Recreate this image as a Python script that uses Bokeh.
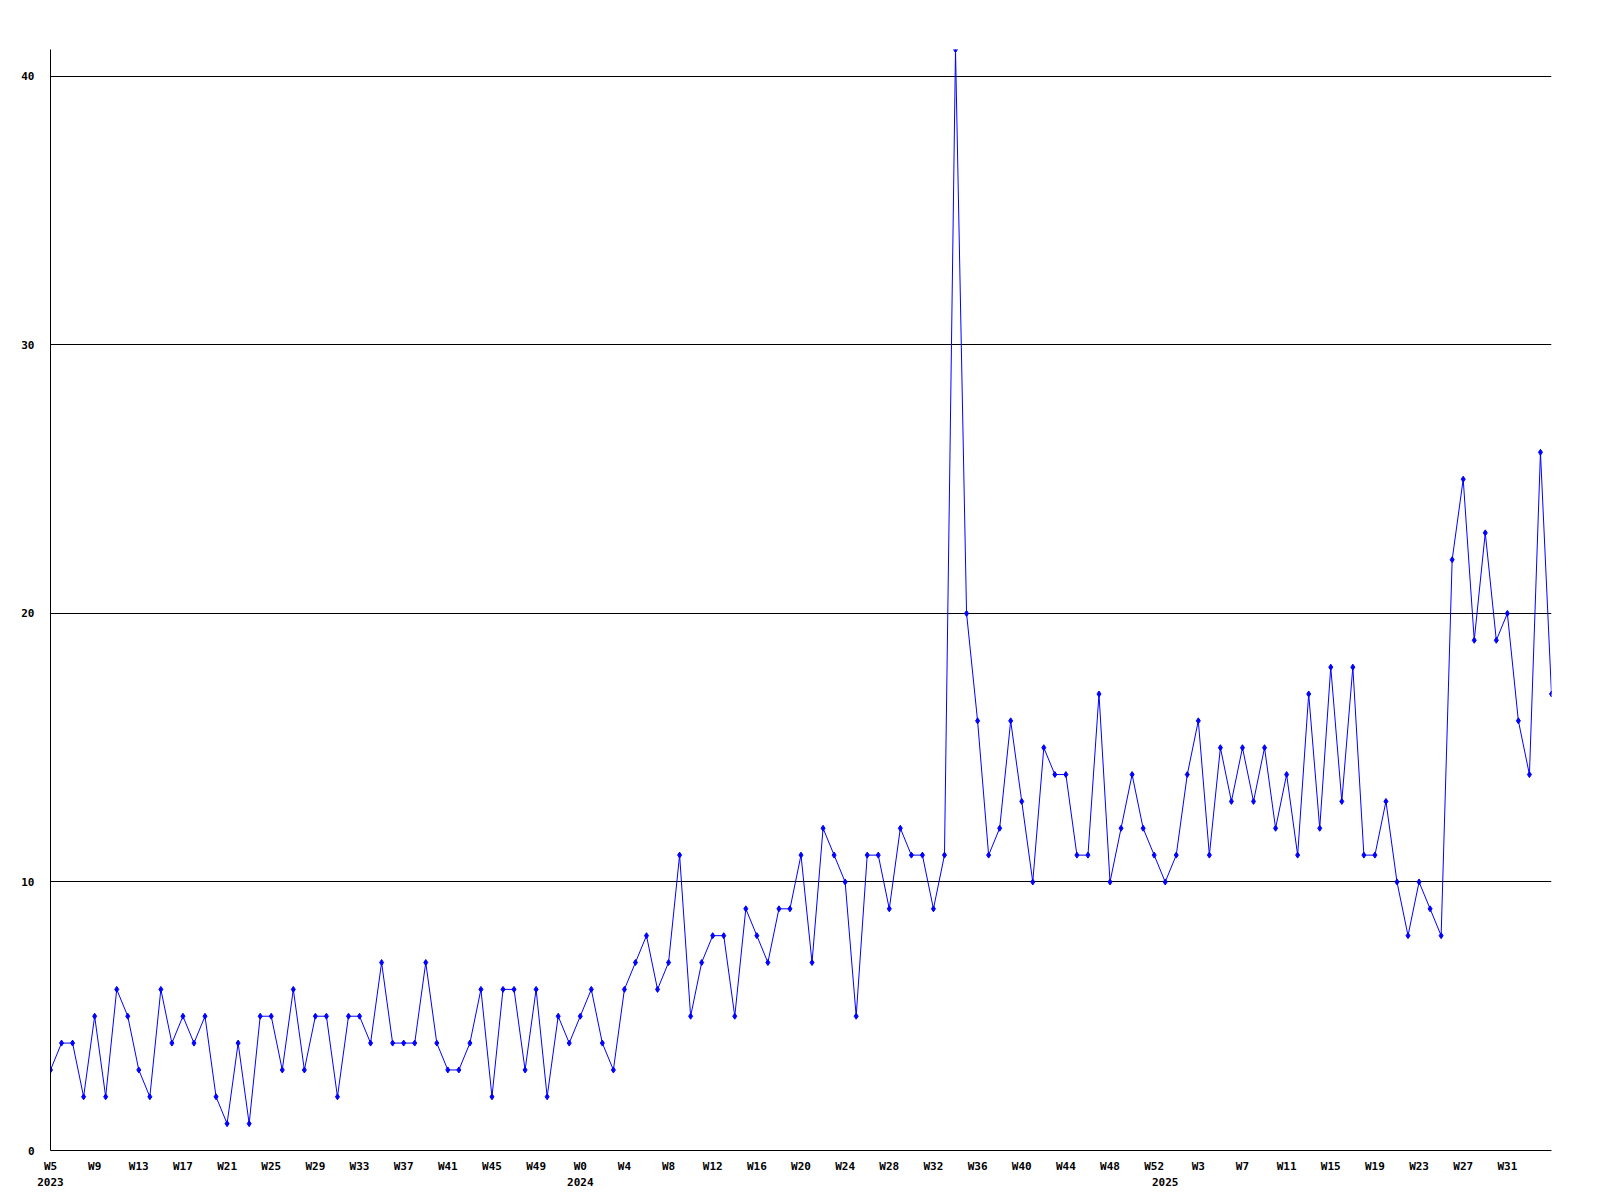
from bokeh.plotting import figure
from bokeh.models import Range1d, FixedTicker, LinearAxis
from bokeh.embed import file_html
from bokeh.resources import INLINE

# ---- data ----
years = [2023, 2024, 2025]
weeks_2023 = list(range(5, 53))
weeks_2024 = list(range(0, 53))
weeks_2025 = list(range(0, 36))

counts_2023 = [3, 4, 4, 2, 5, 2, 6, 5, 3, 2,
               6, 4, 5, 4, 5, 2, 1, 4, 1, 5,
               5, 3, 6, 3, 5, 5, 2, 5, 5, 4,
               7, 4, 4, 4, 7, 4, 3, 3, 4, 6,
               2, 6, 6, 3, 6, 2, 5, 4]
counts_2024 = [5, 6, 4, 3, 6, 7, 8, 6, 7, 11,
               5, 7, 8, 8, 5, 9, 8, 7, 9, 9,
               11, 7, 12, 11, 10, 5, 11, 11, 9, 12,
               11, 11, 9, 11, 41, 20, 16, 11, 12, 16,
               13, 10, 15, 14, 14, 11, 11, 17, 10, 12,
               14, 12, 11]
counts_2025 = [10, 11, 14, 16, 11, 15, 13, 15, 13, 15,
               12, 14, 11, 17, 12, 18, 13, 18, 11, 11,
               13, 10, 8, 10, 9, 8, 22, 25, 19, 23,
               19, 20, 16, 14, 26, 17]

y_ticks = [0, 10, 20, 30, 40]
label_every = 4

weeks_all = weeks_2023 + weeks_2024 + weeks_2025
counts = counts_2023 + counts_2024 + counts_2025
xs = list(range(len(counts)))
year_starts = [0, len(weeks_2023), len(weeks_2023) + len(weeks_2024)]

# the last point sits on the frame edge and carries no label
week_ticks = xs[:-1][::label_every]
week_overrides = {i: "W%d" % weeks_all[i] for i in week_ticks}
year_overrides = {s: str(y) for s, y in zip(year_starts, years)}

FONT = "DejaVu Sans Mono"
BLUE = "#0000FF"

p = figure(width=1592, height=1192, output_backend="svg", toolbar_location=None,
           x_range=Range1d(0, len(counts) - 1), y_range=Range1d(0, max(counts)),
           min_border_left=50, min_border_right=41, min_border_top=49,
           min_border_bottom=42, background_fill_color="white",
           border_fill_color="white")
p.outline_line_color = None
p.xgrid.visible = False
p.ygrid.ticker = FixedTicker(ticks=y_ticks)
p.ygrid.grid_line_color = "black"
p.ygrid.grid_line_width = 1


def style_axis(ax, standoff):
    ax.axis_line_color = "black"
    ax.axis_line_width = 1
    ax.major_tick_in = 0
    ax.major_tick_out = 0
    ax.minor_tick_in = 0
    ax.minor_tick_out = 0
    ax.major_label_standoff = standoff
    ax.major_label_text_font = FONT
    ax.major_label_text_font_style = "bold"
    ax.major_label_text_font_size = "11px"
    ax.major_label_text_color = "black"


yax = p.yaxis[0]
yax.ticker = FixedTicker(ticks=y_ticks)
style_axis(yax, 16)

xax = p.xaxis[0]
xax.ticker = FixedTicker(ticks=week_ticks)
xax.major_label_overrides = week_overrides
style_axis(xax, 9)

year_axis = LinearAxis(ticker=FixedTicker(ticks=year_starts),
                       major_label_overrides=year_overrides)
style_axis(year_axis, 2)
year_axis.axis_line_color = None
p.add_layout(year_axis, "below")

p.line(xs, counts, line_color=BLUE, line_width=1)
p.scatter(xs, counts, marker="diamond", size=6, fill_color=BLUE, line_color=BLUE)

open("out.html", "w").write(file_html(p, INLINE))
